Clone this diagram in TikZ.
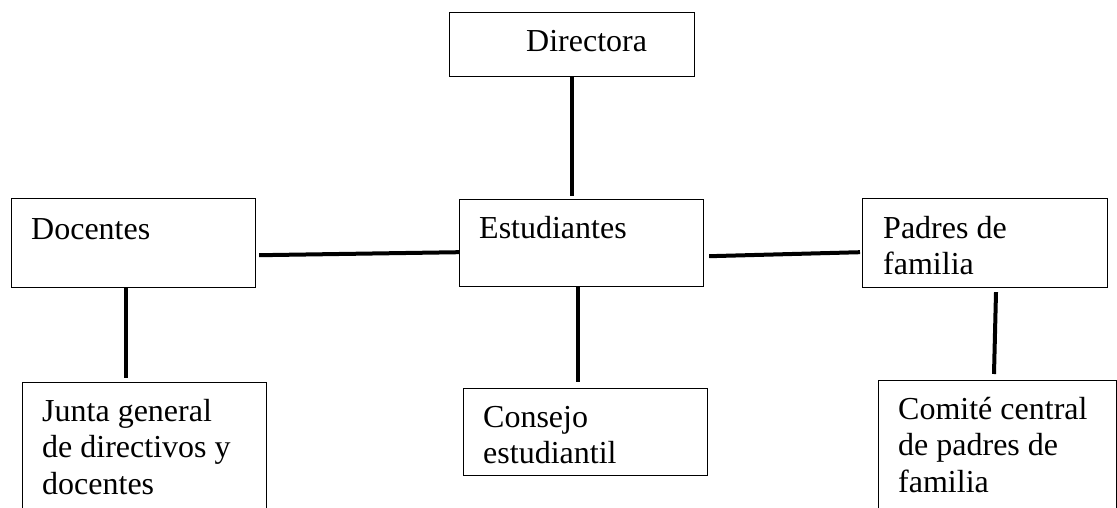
\documentclass[tikz,border=0pt]{standalone}
\usepackage{fontspec}
\setmainfont{Liberation Serif}
\usetikzlibrary{calc}
\begin{document}
\begin{tikzpicture}[x=1pt,y=-1pt,
  box/.style={draw, line width=1.2pt, inner sep=0pt, anchor=north west},
  txt/.style={inner sep=0pt, anchor=base west, font=\fontsize{32}{36.5}\selectfont, align=left},
  conn/.style={line width=4pt}]
\useasboundingbox (0,0) rectangle (1117,508);
\clip (0,0) rectangle (1117,508);
% boxes
\node[box, minimum width=245pt, minimum height=64pt] (dir) at (449,12) {};
\node[box, minimum width=244pt, minimum height=87pt] (est) at (459,199) {};
\node[box, minimum width=244pt, minimum height=87pt] (con) at (463,388) {};
\node[box, minimum width=244pt, minimum height=89pt] (doc) at (11,198) {};
\node[box, minimum width=244pt, minimum height=200pt] (jun) at (22,382) {};
\node[box, minimum width=245pt, minimum height=89pt] (pad) at (862,198) {};
\node[box, minimum width=238pt, minimum height=200pt] (com) at (878,380) {};
% texts (anchor = baseline of last line)
\node[txt] (tdir) at (526,52) {Directora};
\node[txt] (test) at (479,238) {Estudiantes};
\node[txt] (tcon) at (483,463.5) {Consejo\\estudiantil};
\node[txt] (tdoc) at (31,239) {Docentes};
\node[txt] (tjun) at (42,494) {Junta general\\de directivos y\\docentes};
\node[txt] (tpad) at (883,274.5) {Padres de\\familia};
\node[txt] (tcom) at (898,492) {Comité central\\de padres de\\familia};
% connectors
\draw[conn] ($(dir.south west)+(123,0)$) -- ($(est.north west)+(113,-3)$);
\draw[conn] ($(est.south west)+(119,0)$) -- ($(con.north west)+(115,-6)$);
\draw[conn] ($(doc.south east)+(3,-33)$) -- ($(est.south west)+(0,-35)$);
\draw[conn] ($(est.south east)+(5,-31)$) -- ($(pad.south west)+(-2,-36)$);
\draw[conn] ($(doc.south west)+(115,0)$) -- ($(jun.north west)+(104,-4)$);
\draw[conn] ($(pad.south west)+(134,4)$) -- ($(com.north west)+(116,-6)$);
\end{tikzpicture}
\end{document}
